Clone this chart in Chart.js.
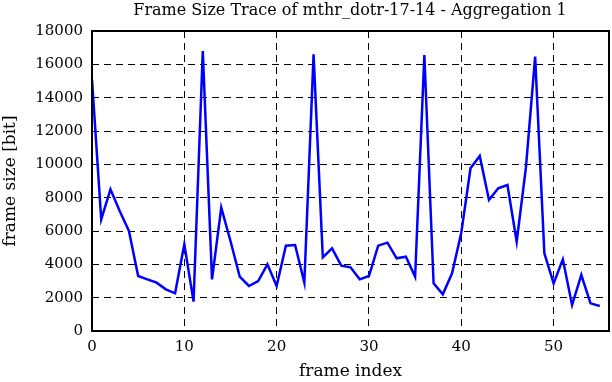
<!DOCTYPE html>
<html>
<head>
<meta charset="utf-8">
<script src="https://cdn.jsdelivr.net/npm/chart.js@4"></script>
<style>
  html, body { margin: 0; padding: 0; background: #fff; }
  #wrap { width: 612px; height: 382px; }
</style>
</head>
<body>
<div id="wrap"><canvas id="myChart"></canvas></div>
<script>
// frame index 0..55
const frameIndex = [];
for (let i = 0; i <= 55; i++) frameIndex.push(i);

// frame size [bit]
const frameSize = [
  15100, 6700, 8500, 7200, 6000, 3300, 3100, 2900, 2500, 2260,
  5200, 1760, 16800, 3100, 7400, 5400, 3260, 2700, 3000, 4000,
  2700, 5120, 5160, 2900, 16600, 4420, 4960, 3920, 3820, 3100,
  3300, 5120, 5300, 4360, 4460, 3260, 16560, 2860, 2200, 3460,
  5900, 9760, 10500, 7860, 8560, 8760, 5360, 9800, 16460, 4660,
  2860, 4300, 1560, 3360, 1660, 1500
];

const xTicks = [0, 10, 20, 30, 40, 50];
const yTicks = [0, 2000, 4000, 6000, 8000, 10000, 12000, 14000, 16000, 18000];

const TITLE = 'Frame Size Trace of mthr_dotr-17-14 - Aggregation 1';
const FONT = 'DejaVu Serif';

// solid frame round the plot area, and the title (gnuplot puts it off-centre)
const frame = {
  id: 'frame',
  afterDraw(chart) {
    const a = chart.chartArea, c = chart.ctx;
    c.save();
    c.strokeStyle = '#000';
    c.lineWidth = 2;
    c.setLineDash([]);
    c.strokeRect(a.left, a.top, a.right - a.left, a.bottom - a.top);
    c.fillStyle = '#000';
    c.font = '16px "' + FONT + '"';
    c.textAlign = 'center';
    c.textBaseline = 'alphabetic';
    c.fillText(TITLE, 350, 15);
    c.restore();
  }
};

const ctx = document.getElementById('myChart');
new Chart(ctx, {
  type: 'line',
  data: {
    labels: frameIndex,
    datasets: [{
      data: frameIndex.map((x, i) => ({ x: x, y: frameSize[i] })),
      borderColor: '#0000ff',
      borderWidth: 2.5,
      pointRadius: 0,
      tension: 0,
      fill: false
    }]
  },
  options: {
    responsive: true,
    maintainAspectRatio: false,
    animation: false,
    layout: { padding: { left: 0, right: 3, top: 31, bottom: 0 } },
    plugins: {
      legend: { display: false },
      tooltip: { enabled: false },
      title: { display: false }
    },
    scales: {
      x: {
        type: 'linear',
        min: 0,
        max: 56,
        afterBuildTicks: s => { s.ticks = xTicks.map(v => ({ value: v })); },
        afterFit: s => { s.height = 51; },
        ticks: {
          color: '#000',
          font: { family: FONT, size: 15 },
          padding: 7,
          maxRotation: 0,
          callback: v => String(v)
        },
        grid: { color: '#000', lineWidth: 1, drawTicks: false },
        border: { display: false, dash: [7, 5] },
        title: {
          display: true,
          text: 'frame index',
          color: '#000',
          font: { family: FONT, size: 17 },
          padding: { top: 0, bottom: 0 }
        }
      },
      y: {
        min: 0,
        max: 18000,
        afterBuildTicks: s => { s.ticks = yTicks.map(v => ({ value: v })); },
        afterFit: s => { s.width = 92; },
        ticks: {
          color: '#000',
          font: { family: FONT, size: 15 },
          padding: 9,
          callback: v => String(v)
        },
        grid: { color: '#000', lineWidth: 1, drawTicks: false },
        border: { display: false, dash: [7, 5] },
        title: {
          display: true,
          text: 'frame size [bit]',
          color: '#000',
          font: { family: FONT, size: 17 },
          padding: { top: 0, bottom: 4 }
        }
      }
    }
  },
  plugins: [frame]
});
</script>
</body>
</html>
